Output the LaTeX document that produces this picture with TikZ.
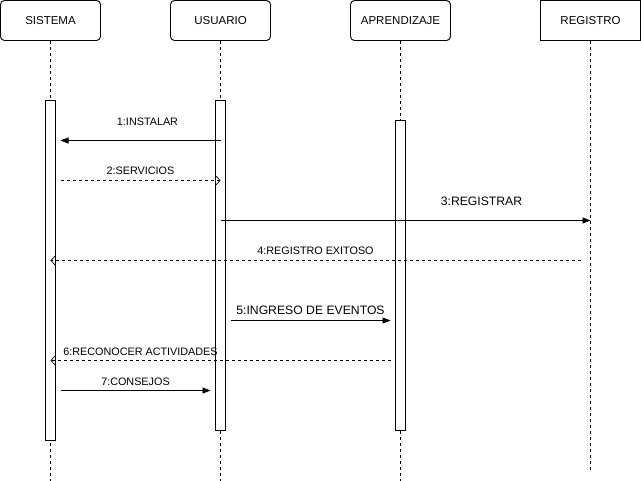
\documentclass[tikz,border=0pt]{standalone}
\usepackage{fontspec}
\setmainfont{Liberation Sans}
\usetikzlibrary{arrows.meta}

\tikzset{
  actor/.style={draw, line width=0.9pt, rounded corners=4pt, minimum width=100pt, minimum height=40pt, inner sep=0pt, font=\fontsize{11.5}{13}\selectfont},
  plainactor/.style={actor, rounded corners=0pt},
  life/.style={dashed, dash pattern=on 3pt off 3pt, line width=0.6pt},
  activ/.style={draw, fill=white, line width=0.8pt},
  msg/.style={line width=0.8pt, -{Triangle[length=8pt,width=6pt]}},
  reply/.style={line width=0.7pt, dash pattern=on 3pt off 3pt, -{Straight Barb[length=4pt,width=9pt]}},
  lbl/.style={font=\fontsize{10.8}{12}\selectfont, inner sep=1pt},
  biglbl/.style={font=\fontsize{12.2}{14}\selectfont, inner sep=1pt}
}

\begin{document}
\begin{tikzpicture}[x=1pt, y=-1pt]
        \useasboundingbox (0,0) rectangle (641,481);
        \begin{scope}[shift={(0.5,0.5)}]
        % participants
        \node[actor] (sis) at (50,20) {SISTEMA};
        \node[actor] (usu) at (220,20) {USUARIO};
        \node[actor] (apr) at (400,20) {APRENDIZAJE};
        \node[plainactor] (reg) at (590,20) {REGISTRO};
        % lifelines
        \draw[life] (sis.south) -- (50,481);
        \draw[life] (usu.south) -- (220,481);
        \draw[life] (apr.south) -- (400,481);
        \draw[life] (reg.south) -- (590,470);
        % activation bars
        \draw[activ] (45,100) rectangle (55,440);
        \draw[activ] (215,100) rectangle (225,430);
        \draw[activ] (395,120) rectangle (405,430);
        % messages
        \coordinate (m1a) at (220,140); \coordinate (m1b) at (60,140);
        \coordinate (m2a) at (60,180);  \coordinate (m2b) at (220,180);
        \coordinate (m3a) at (220,220); \coordinate (m3b) at (590,220);
        \coordinate (m4a) at (580,260); \coordinate (m4b) at (50,260);
        \coordinate (m5a) at (230,320); \coordinate (m5b) at (390,320);
        \coordinate (m6a) at (390,360); \coordinate (m6b) at (50,360);
        \coordinate (m7a) at (60,390);  \coordinate (m7b) at (210,390);
        \draw[msg] (m1a) -- (m1b);
        \node[lbl] (l1) at (147,121) {1:INSTALAR};
        \draw[reply] (m2a) -- (m2b);
        \node[lbl] (l2) at (140,170) {2:SERVICIOS};
        \draw[msg] (m3a) -- (m3b);
        \node[biglbl] (l3) at (481,201) {3:REGISTRAR};
        \draw[reply] (m4a) -- (m4b);
        \node[lbl] (l4) at (315,250) {4:REGISTRO EXITOSO};
        \draw[msg] (m5a) -- (m5b);
        \node[biglbl] (l5) at (310,310) {5:INGRESO DE EVENTOS};
        \draw[reply] (m6a) -- (m6b);
        \node[lbl] (l6) at (140,351) {6:RECONOCER ACTIVIDADES};
        \draw[msg] (m7a) -- (m7b);
        \node[lbl] (l7) at (135,381) {7:CONSEJOS};
        \end{scope}
    \end{tikzpicture}
\end{document}
